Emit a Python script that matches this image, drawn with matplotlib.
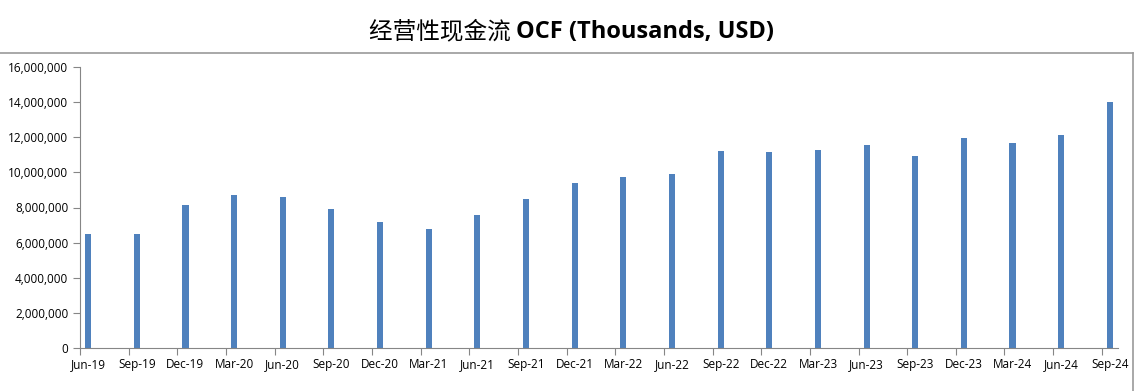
import matplotlib
matplotlib.use("Agg")
import matplotlib.pyplot as plt
from matplotlib.lines import Line2D
from matplotlib.ticker import FuncFormatter

plt.rcParams['font.family'] = ['Open Sans', 'Noto Sans CJK SC', 'DejaVu Sans']

quarters = ["Jun-19", "Sep-19", "Dec-19", "Mar-20", "Jun-20", "Sep-20", "Dec-20",
            "Mar-21", "Jun-21", "Sep-21", "Dec-21", "Mar-22", "Jun-22", "Sep-22",
            "Dec-22", "Mar-23", "Jun-23", "Sep-23", "Dec-23", "Mar-24", "Jun-24", "Sep-24"]
ocf = [6510000, 6510000, 8160000, 8730000, 8620000, 7930000, 7190000,
       6790000, 7590000, 8500000, 9410000, 9760000, 9930000, 11240000,
       11180000, 11290000, 11580000, 10950000, 11980000, 11690000, 12150000, 14030000]

# date axis with monthly base unit: each quarter sits in its first month slot
months = [3 * i for i in range(len(quarters))]

fig = plt.figure(figsize=(11.43, 3.91), dpi=100)
ax = fig.add_axes([80 / 1143, 1 - 348 / 391, (1118 - 80) / 1143, (348 - 67) / 391])

ax.bar(months, ocf, width=0.38, color="#4F81BD", zorder=2)

ax.set_xlim(-0.5, 63.5)
ax.set_ylim(0, 16000000)
ax.set_yticks(range(0, 16000001, 2000000))
ax.yaxis.set_major_formatter(FuncFormatter(lambda v, p: f"{int(v):,}"))

ax.set_xticks([m - 0.5 for m in months])
ax.set_xticklabels([])
ax.set_xticks(months, minor=True)
ax.set_xticklabels(quarters, minor=True)
ax.tick_params(axis="x", which="minor", length=0, pad=7, labelsize=8.5)
ax.tick_params(axis="x", which="major", length=5, color="#868686")
ax.tick_params(axis="y", length=5, color="#868686", labelsize=8.5)

for s in ["top", "right"]:
    ax.spines[s].set_visible(False)
for s in ["left", "bottom"]:
    ax.spines[s].set_color("#868686")

# title: chinese part regular, english part bold, centred together
ty = 1 - 32 / 391
t1 = fig.text(0, ty, "经营性现金流 ", ha="left", va="center", fontsize=17,
              family=['Noto Sans CJK SC', 'DejaVu Sans'])
t2 = fig.text(0, ty, "OCF (Thousands, USD)", ha="left", va="center", fontsize=17,
              fontweight="bold")
r = fig.canvas.get_renderer()
w1 = t1.get_window_extent(r).width / fig.bbox.width
w2 = t2.get_window_extent(r).width / fig.bbox.width
x0 = 0.5 - (w1 + w2) / 2
t1.set_x(x0)
t2.set_x(x0 + w1)

# chart frame lines
fig.add_artist(Line2D([0, 1133 / 1143], [1 - 53 / 391, 1 - 53 / 391], color="#9a9a9a", lw=1.2))
fig.add_artist(Line2D([1133 / 1143, 1133 / 1143], [1 - 53 / 391, 0], color="#9a9a9a", lw=1.2))

fig.savefig("out.png", dpi=100)
